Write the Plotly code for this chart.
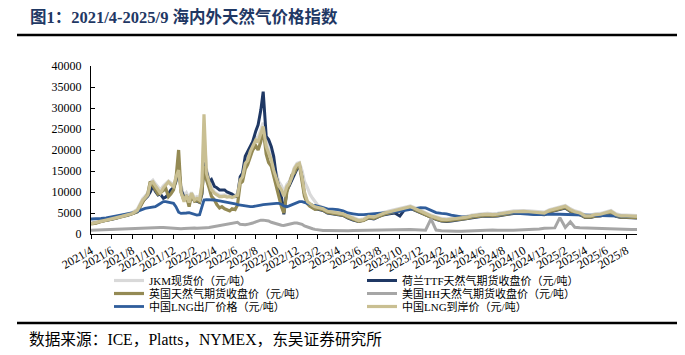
import plotly.graph_objects as go

# ---------------- dates (weekly in the volatile period, semi-monthly elsewhere) ----------------
dates = []
for y in range(2021, 2026):
    for m in range(1, 13):
        if (y, m) < (2021, 4) or (y, m) > (2025, 8):
            continue
        days = [1, 8, 16, 23] if (2021, 9) <= (y, m) <= (2023, 1) else [1, 16]
        for d in days:
            dates.append(f"{y}-{m:02d}-{d:02d}")
dates.append("2025-09-01")

# ---------------- series values (元/吨) ----------------
jkm = [
    2600, 2850, 3200, 3400, 3750, 4050, 4400, 4700, 5100, 5900,
    8400, 9000, 9800, 12200, 12800, 12000, 11200, 10500, 11500, 12000, 12600, 12200,
    11800, 13000, 14500, 11500, 9000, 9800, 8500, 9900, 8600, 8900, 8600, 11500,
    24000, 15500, 12800, 11000, 10000, 9600, 9200, 9200, 9300, 9100, 9100, 9000,
    9300, 9500, 13000, 13800, 17200, 18000, 20200, 21600, 23000, 23000, 25000, 26500,
    22000, 20500, 18500, 16500, 14000, 12500, 11500, 10000, 11800, 12500, 14000, 15800,
    16800, 17000, 15000, 12500, 11000, 9500, 8500, 7600,
    6800, 6300, 5600, 5400, 5200, 5000, 4400, 3900, 3400, 3600, 4400, 4200,
    4800, 5200, 5500, 5800, 6200, 6500, 6700, 6200, 5600, 5200,
    4500, 4100, 3700, 3600, 3700, 3900, 4100, 4200, 4500, 4700, 4800, 4900,
    4800, 4900, 5200, 5300, 5500, 5600, 5600, 5500, 5400, 5400, 5200, 5800,
    6200, 6400, 6800, 6000, 5500, 5200, 4500, 4500, 4800, 4900, 5200, 5600,
    4800, 4500, 4500, 4500, 4400,
]

ttf = [
    2500, 2650, 3000, 3200, 3500, 3800, 4200, 4400, 4800, 5300,
    7800, 8400, 9000, 10000, 11500, 10200, 9300, 9500, 8500, 8800, 9500, 10500,
    11000, 12500, 16000, 10500, 8800, 9000, 8000, 8800, 8000, 7800, 7500, 9500,
    17000, 15000, 12500, 13000, 11300, 11000, 10500, 10500, 10500, 10000, 9700, 9500,
    8900, 9000, 13600, 14500, 18500, 19700, 21000, 22000, 24500, 26000, 29500, 33900,
    23200, 22500, 20800, 18500, 13600, 11500, 8900, 4700, 10500, 11500, 13000, 14400,
    15500, 16200, 13500, 9500, 7300, 6800, 6300, 6000,
    5900, 5600, 5000, 4800, 4700, 4400, 3800, 3300, 3000, 3300, 3800, 3600,
    4200, 4600, 4800, 5000, 4300, 5900, 6100, 5600, 5000, 4600,
    3900, 3500, 3100, 3000, 3100, 3300, 3500, 3600, 3900, 4100, 4200, 4300,
    4200, 4300, 4600, 4700, 4900, 5000, 5000, 4900, 4800, 4800, 4600, 5200,
    5600, 5800, 6200, 5400, 4900, 4600, 3900, 3900, 4200, 4300, 4600, 5000,
    4200, 3900, 3900, 3900, 3800,
]

uk = [
    2400, 2600, 3000, 3200, 3500, 3800, 4100, 4400, 4800, 5300,
    7800, 8600, 9500, 12500, 11500, 10500, 9500, 9800, 10500, 10900, 8900, 9500,
    10500, 13000, 20000, 10000, 8000, 9000, 6500, 9200, 7800, 8000, 7600, 10000,
    16100, 13000, 11000, 9000, 8100, 7000, 6200, 6500, 6000, 5800, 5500, 6000,
    5800, 6900, 12000, 12500, 15500, 16500, 18500, 20000, 21000, 20000, 22000, 25000,
    19000, 17000, 16100, 13650, 11270, 9000, 6500, 5000, 10000, 12000, 14000, 14500,
    16000, 16500, 13000, 9000, 7200, 6600, 6200, 5900,
    6000, 5700, 5100, 4900, 4700, 4500, 3900, 3400, 3000, 3200, 3900, 3700,
    4300, 4700, 5000, 5300, 5700, 6000, 6200, 5700, 5100, 4700,
    4000, 3600, 3200, 3100, 3200, 3400, 3600, 3700, 4000, 4200, 4300, 4400,
    4300, 4400, 4700, 4800, 5000, 5100, 5100, 5000, 4900, 4900, 4700, 5300,
    5700, 5900, 6300, 5500, 5000, 4700, 4000, 4000, 4300, 4400, 4700, 5100,
    4300, 4000, 4000, 4000, 3900,
]

hh = [
    900, 950, 1000, 1050, 1100, 1150, 1200, 1250, 1300, 1350,
    1400, 1450, 1500, 1550, 1600, 1650, 1600, 1550, 1550, 1500, 1450, 1400,
    1350, 1300, 1250, 1250, 1300, 1350, 1300, 1400, 1400, 1350, 1350, 1450,
    1500, 1500, 1550, 1650, 1800, 1900, 2000, 2000, 2100, 2300, 2400, 2500,
    2700, 2800, 2300, 2200, 2200, 2300, 2400, 2600, 2900, 3100, 3300, 3300,
    3200, 3100, 2800, 2600, 2400, 2200, 2100, 2050, 2200, 2400, 2600, 2600,
    2600, 2400, 2300, 1900, 1600, 1400, 1250, 1100,
    950, 850, 850, 800, 800, 780, 800, 820, 850, 900, 900, 880,
    900, 950, 950, 1000, 1050, 1100, 1050, 1000, 950, 900,
    3600, 950, 800, 700, 650, 650, 650, 700, 800, 950, 1000, 1050,
    950, 900, 850, 850, 900, 950, 1000, 950, 1100, 1200, 1350, 1400,
    1450, 3900, 1550, 2900, 1600, 1500, 1450, 1350, 1300, 1300, 1350, 1300,
    1250, 1200, 1150, 1100, 1100,
]

lng_ex_factory = [
    3570, 3600, 3700, 3850, 4100, 4200, 4500, 4700, 5000, 5400,
    6000, 6100, 6200, 6300, 6350, 6500, 6900, 7300, 7700, 7700, 7500, 7400,
    7300, 6500, 5200, 4900, 4900, 5000, 5100, 4900, 4700, 4500, 4600, 6500,
    8100, 8200, 8200, 8100, 8100, 8000, 7900, 7800, 7700, 7600, 7500, 7400,
    7200, 7000, 6900, 6800, 6600, 6500, 6500, 6500, 6700, 6800, 6900, 7000,
    7100, 7100, 7200, 7200, 7300, 7300, 7100, 6700, 6500, 6700, 7000, 7300,
    7500, 7700, 7700, 7500, 7200, 7000, 6900, 6800,
    6600, 6300, 6000, 5900, 5800, 5500, 5000, 4800, 4600, 4600, 4700, 4800,
    4900, 5000, 5100, 5200, 5400, 5600, 5800, 6000, 6300, 6200,
    5600, 5100, 4900, 4800, 4500, 4300, 4100, 4100, 4300, 4500, 4600, 4600,
    4600, 4700, 4800, 5000, 5000, 4900, 4700, 4600, 4600, 4600, 4700, 4750,
    4750, 4700, 4650, 4600, 4600, 4550, 4500, 4450, 4450, 4400, 4300, 4200,
    4200, 4200, 4200, 4200, 4200,
]

lng_landed = [
    2450, 2700, 3100, 3300, 3600, 3900, 4200, 4500, 4900, 5600,
    8100, 8600, 9300, 12000, 12400, 11500, 10500, 9700, 11000, 11700, 12400, 11800,
    11300, 13500, 15200, 10000, 7700, 9300, 7500, 9700, 8100, 8500, 8100, 12000,
    28500, 14500, 12500, 10500, 9700, 9300, 8900, 8900, 9000, 8800, 8900, 8700,
    9000, 9200, 12900, 13600, 16800, 17500, 19700, 21000, 22400, 22000, 24000, 25600,
    20800, 19500, 17600, 15200, 12900, 11500, 10500, 9000, 11300, 12000, 13500, 15500,
    16500, 16800, 13500, 10000, 7700, 7200, 6800, 6500,
    6300, 6000, 5400, 5200, 5000, 4800, 4200, 3700, 3200, 3400, 4200, 4000,
    4600, 5000, 5300, 5600, 6000, 6300, 6500, 6000, 5400, 5000,
    4300, 3900, 3500, 3400, 3500, 3700, 3900, 4000, 4300, 4500, 4600, 4700,
    4600, 4700, 5000, 5100, 5300, 5400, 5400, 5300, 5200, 5200, 5000, 5600,
    6000, 6200, 6600, 5800, 5300, 5000, 4300, 4300, 4600, 4700, 5000, 5400,
    4600, 4300, 4300, 4300, 4200,
]

names = [
    "JKM现货价（元/吨）",
    "荷兰TTF天然气期货收盘价（元/吨）",
    "英国天然气期货收盘价（元/吨）",
    "美国HH天然气期货收盘价（元/吨）",
    "中国LNG出厂价格（元/吨）",
    "中国LNG到岸价（元/吨）",
]
series = [jkm, ttf, uk, hh, lng_ex_factory, lng_landed]
colors = ["#d9d9d9", "#1f3864", "#948a54", "#a6a6a6", "#2f5d9b", "#c9bf92"]
widths = [3.2, 3, 3.2, 3, 2.8, 3.2]
legend_ids = ["legend", "legend", "legend2", "legend2", "legend3", "legend3"]

FONT = "Liberation Serif, 'Noto Sans CJK SC', serif"

fig = go.Figure()
for nm, vals, c, w, lg in zip(names, series, colors, widths, legend_ids):
    assert len(vals) == len(dates), (nm, len(vals), len(dates))
    fig.add_trace(go.Scatter(x=dates, y=vals, mode="lines", name=nm,
                             line=dict(color=c, width=w), legend=lg))

# the page body has an 8px margin; lay the figure out in window coordinates
OFF = 8
W, H = 685 - OFF, 355 - OFF
L, R, T, B = 91 - OFF, 48, 66 - OFF, 121
pw, ph = W - L - R, H - T - B


def px(xw):  # window x -> paper x
    return (xw - OFF - L) / pw


def py(yw):  # window y -> paper y
    return (H - B - (yw - OFF)) / ph


leg_common = dict(orientation="h", xref="paper", yref="paper",
                  x=px(109), xanchor="left", yanchor="middle",
                  entrywidth=208, entrywidthmode="pixels",
                  font=dict(family=FONT, size=11, color="black"),
                  bgcolor="rgba(0,0,0,0)", itemwidth=30, tracegroupgap=0)

fig.update_layout(
    width=W, height=H,
    margin=dict(l=L, r=R, t=T, b=B, autoexpand=False),
    paper_bgcolor="white", plot_bgcolor="white",
    font=dict(family=FONT, size=12, color="black"),
    xaxis=dict(type="date", range=["2021-04-01", "2025-09-01"],
               tick0="2021-04-01", dtick="M2", tickformat="%Y/%-m",
               tickangle=-30, ticks="outside", ticklen=4, tickcolor="black",
               showline=True, linecolor="black", linewidth=1.2,
               showgrid=False, zeroline=False, automargin=False,
               tickfont=dict(family=FONT, size=12, color="black")),
    yaxis=dict(range=[0, 40000], dtick=5000, tickformat="d", ticks="inside", ticklen=4,
               tickcolor="black", showline=True, linecolor="black", linewidth=1,
               showgrid=False, zeroline=False, ticklabelstandoff=6, automargin=False,
               tickfont=dict(family=FONT, size=12, color="black")),
    legend=dict(y=py(280.5), **leg_common),
    legend2=dict(y=py(293.5), **leg_common),
    legend3=dict(y=py(306.5), **leg_common),
    shapes=[
        dict(type="line", xref="paper", yref="paper", x0=px(17), x1=px(690),
             y0=py(35), y1=py(35), line=dict(color="black", width=2.5)),
        dict(type="line", xref="paper", yref="paper", x0=px(17), x1=px(690),
             y0=py(323), y1=py(323), line=dict(color="black", width=2.5)),
    ],
    annotations=[
        dict(text="<b>图1：2021/4-2025/9 海内外天然气价格指数</b>", xref="paper", yref="paper",
             x=px(28), y=py(17), xanchor="left", yanchor="middle", showarrow=False,
             font=dict(family=FONT, size=16.5, color="#1f3864")),
        dict(text="数据来源：ICE，Platts，NYMEX，东吴证券研究所", xref="paper", yref="paper",
             x=px(27), y=py(339), xanchor="left", yanchor="middle", showarrow=False,
             font=dict(family=FONT, size=15.7, color="black")),
    ],
)

fig.write_html("out.html")
